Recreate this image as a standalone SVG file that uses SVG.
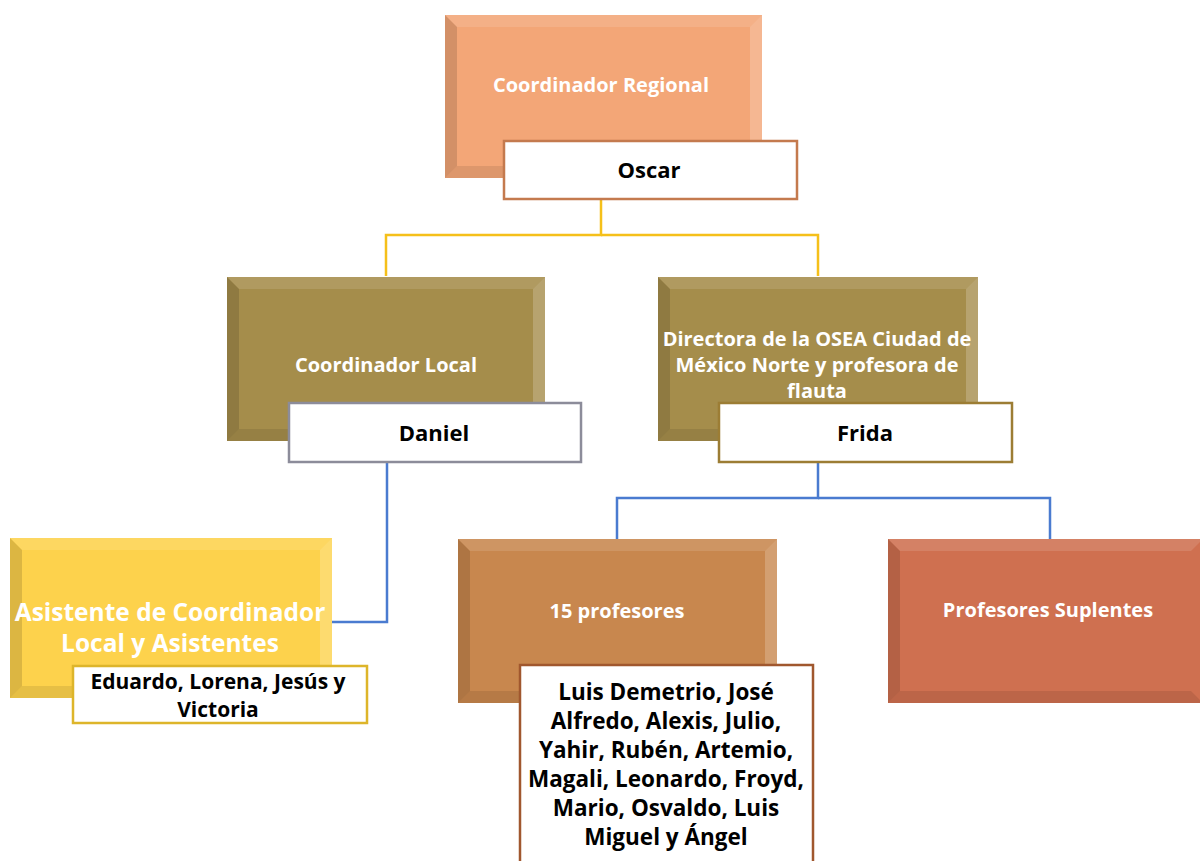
<svg xmlns="http://www.w3.org/2000/svg" width="1200" height="861" viewBox="0 0 1200 861">
<style>
.t{font-family:"Open Sans","Liberation Sans",sans-serif;font-weight:bold;text-anchor:middle}
.w{fill:#ffffff}
.k{fill:#000000}
.bt{fill:#ffffff;opacity:.12}
.bl{fill:#000000;opacity:.13}
.br{fill:#ffffff;opacity:.2}
.bb{fill:#000000;opacity:.09}
.sub{fill:#ffffff;stroke-width:2.5}
.cy{fill:none;stroke:#F5C01A;stroke-width:2.5}
.cb{fill:none;stroke:#4A7BD0;stroke-width:2.5}
</style>
<rect width="1200" height="861" fill="#ffffff"/>
<g id="connectors">
<polyline class="cy" points="601,199 601,235 386,235 386,276"/>
<polyline class="cy" points="601,235 818,235 818,276"/>
<polyline class="cb" points="387,462 387,622 332,622"/>
<polyline class="cb" points="818,462 818,498 617,498 617,539"/>
<polyline class="cb" points="818,498 1050,498 1050,539"/>
</g>
<g id="n-regional">
<rect x="445" y="15" width="317" height="163" fill="#F3A677"/>
<polygon class="bt" points="445,15 762,15 750,27 457,27"/>
<polygon class="bl" points="445,15 457,27 457,166 445,178"/>
<polygon class="br" points="762,15 762,178 750,166 750,27"/>
<polygon class="bb" points="445,178 457,166 750,166 762,178"/>
<text class="t w" x="601" y="92" font-size="20">Coordinador Regional</text>
</g>
<g id="n-oscar">
<rect class="sub" x="504" y="141" width="293" height="58" stroke="#C47A4E"/>
<text class="t k" x="649" y="178" font-size="22">Oscar</text>
</g>
<g id="n-local">
<rect x="227" y="277" width="318" height="164" fill="#A58D4B"/>
<polygon class="bt" points="227,277 545,277 533,289 239,289"/>
<polygon class="bl" points="227,277 239,289 239,429 227,441"/>
<polygon class="br" points="545,277 545,441 533,429 533,289"/>
<polygon class="bb" points="227,441 239,429 533,429 545,441"/>
<text class="t w" x="386" y="372" font-size="20">Coordinador Local</text>
</g>
<g id="n-daniel">
<rect class="sub" x="289" y="403" width="292" height="59" stroke="#8C8C9A"/>
<text class="t k" x="434" y="441" font-size="22">Daniel</text>
</g>
<g id="n-directora">
<rect x="658" y="277" width="320" height="164" fill="#A58D4B"/>
<polygon class="bt" points="658,277 978,277 966,289 670,289"/>
<polygon class="bl" points="658,277 670,289 670,429 658,441"/>
<polygon class="br" points="978,277 978,441 966,429 966,289"/>
<polygon class="bb" points="658,441 670,429 966,429 978,441"/>
<text class="t w" x="817" y="346" font-size="20">Directora de la OSEA Ciudad de</text>
<text class="t w" x="817" y="372" font-size="20">México Norte y profesora de</text>
<text class="t w" x="817" y="398" font-size="20">flauta</text>
</g>
<g id="n-frida">
<rect class="sub" x="719" y="403" width="293" height="59" stroke="#9C7D34"/>
<text class="t k" x="865" y="441" font-size="22">Frida</text>
</g>
<g id="n-asistente">
<rect x="10" y="538" width="322" height="160" fill="#FDD24C"/>
<polygon class="bt" points="10,538 332,538 320,550 22,550"/>
<polygon class="bl" points="10,538 22,550 22,686 10,698"/>
<polygon class="br" points="332,538 332,698 320,686 320,550"/>
<polygon class="bb" points="10,698 22,686 320,686 332,698"/>
<text class="t w" x="170" y="621" font-size="24.5">Asistente de Coordinador</text>
<text class="t w" x="170" y="652" font-size="24.5">Local y Asistentes</text>
</g>
<g id="n-eduardo">
<rect class="sub" x="73" y="666" width="294" height="57" stroke="#DDB52A"/>
<text class="t k" x="218" y="689" font-size="21">Eduardo, Lorena, Jesús y</text>
<text class="t k" x="218" y="717" font-size="21">Victoria</text>
</g>
<g id="n-profesores">
<rect x="458" y="539" width="319" height="164" fill="#C8874E"/>
<polygon class="bt" points="458,539 777,539 765,551 470,551"/>
<polygon class="bl" points="458,539 470,551 470,691 458,703"/>
<polygon class="br" points="777,539 777,703 765,691 765,551"/>
<polygon class="bb" points="458,703 470,691 765,691 777,703"/>
<text class="t w" x="617" y="618" font-size="20">15 profesores</text>
</g>
<g id="n-nombres">
<rect class="sub" x="520" y="665" width="293" height="210" stroke="#A0572E"/>
<text class="t k" x="666" y="700" font-size="22.5">Luis Demetrio, José</text>
<text class="t k" x="666" y="729" font-size="22.5">Alfredo, Alexis, Julio,</text>
<text class="t k" x="666" y="758" font-size="22.5">Yahir, Rubén, Artemio,</text>
<text class="t k" x="666" y="787" font-size="22.5">Magali, Leonardo, Froyd,</text>
<text class="t k" x="666" y="816" font-size="22.5">Mario, Osvaldo, Luis</text>
<text class="t k" x="666" y="845" font-size="22.5">Miguel y Ángel</text>
</g>
<g id="n-suplentes">
<rect x="888" y="539" width="315" height="164" fill="#CF7050"/>
<polygon class="bt" points="888,539 1203,539 1191,551 900,551"/>
<polygon class="bl" points="888,539 900,551 900,691 888,703"/>
<polygon class="bb" points="888,703 900,691 1191,691 1203,703"/>
<text class="t w" x="1048" y="617" font-size="20">Profesores Suplentes</text>
</g>
</svg>
